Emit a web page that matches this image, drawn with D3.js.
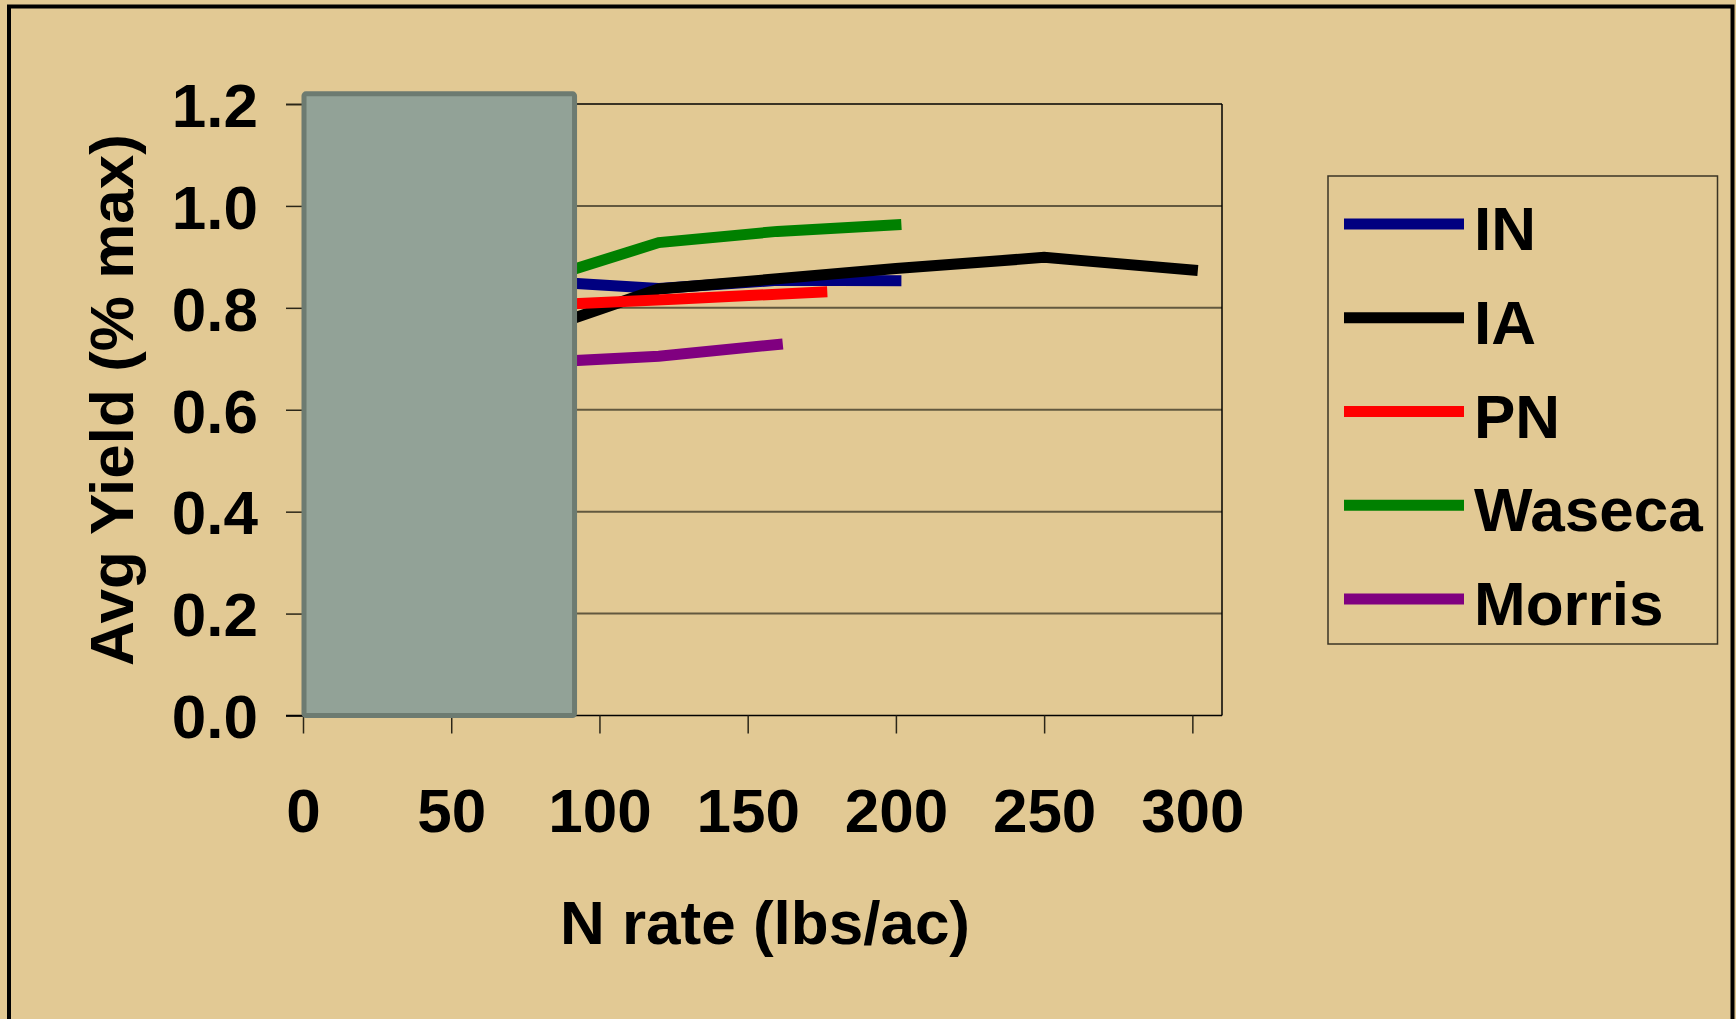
<!DOCTYPE html>
<html>
<head>
<meta charset="utf-8">
<script src="https://cdn.jsdelivr.net/npm/d3@7"></script>
<style>
  html, body { margin: 0; padding: 0; background: #E2C994; }
  svg { display: block; }
  text { font-family: "Liberation Sans", Arial, sans-serif; font-weight: bold; fill: #000; }
</style>
</head>
<body>
<svg id="chart" width="1736" height="1019"></svg>
<script>
// ---- data ----
const seriesNames = ["IN", "IA", "PN", "Waseca", "Morris"];
const seriesColors = ["#000080", "#000000", "#FF0000", "#008000", "#800080"];
const xIN = [80, 120, 160, 200];
const yIN = [0.852, 0.838, 0.854, 0.853];
const xIA = [80, 120, 160, 200, 250, 300];
const yIA = [0.757, 0.837, 0.857, 0.877, 0.899, 0.874];
const xPN = [80, 125, 175];
const yPN = [0.805, 0.817, 0.831];
const xWaseca = [80, 120, 160, 200];
const yWaseca = [0.855, 0.928, 0.950, 0.963];
const xMorris = [80, 120, 160];
const yMorris = [0.693, 0.705, 0.728];
const xTicks = [0, 50, 100, 150, 200, 250, 300];
const yTicks = [0.0, 0.2, 0.4, 0.6, 0.8, 1.0, 1.2];
const xTitle = "N rate (lbs/ac)";
const yTitle = "Avg Yield (% max)";
// covering box (drawn over the low-N part of the plot), in data units
const coverX = [0, 91.6];
const coverY = [0, 1.22];

const seriesX = [xIN, xIA, xPN, xWaseca, xMorris];
const seriesY = [yIN, yIA, yPN, yWaseca, yMorris];

// ---- layout ----
const W = 1736, H = 1019;
const plot = { left: 303, right: 1222, top: 104, bottom: 715.5 };
const FS = 62;
const svg = d3.select("#chart");

svg.append("rect").attr("width", W).attr("height", H).attr("fill", "#E2C994");
// outer frame (bottom edge is off-canvas)
svg.append("rect").attr("x", 9).attr("y", 6.5).attr("width", 1723.5).attr("height", H + 20)
  .attr("fill", "none").attr("stroke", "#000").attr("stroke-width", 4);

const x = d3.scaleLinear().domain([0, 310]).range([plot.left, plot.right]);
const y = d3.scaleLinear().domain([0, 1.2]).range([plot.bottom, plot.top]);

// gridlines
svg.append("g").selectAll("line").data(yTicks.filter(t => t > 0 && t < 1.2)).join("line")
  .attr("x1", plot.left).attr("x2", plot.right)
  .attr("y1", d => y(d)).attr("y2", d => y(d))
  .attr("stroke", "#62583f").attr("stroke-width", 2);

// plot frame top / right
svg.append("line").attr("x1", plot.left).attr("x2", plot.right).attr("y1", y(1.2)).attr("y2", y(1.2))
  .attr("stroke", "#000").attr("stroke-width", 1.5);
svg.append("line").attr("x1", plot.right).attr("x2", plot.right).attr("y1", y(1.2)).attr("y2", y(0))
  .attr("stroke", "#000").attr("stroke-width", 1.5);

// y axis
const yAxis = d3.axisLeft(y).tickValues(yTicks).tickSize(17).tickPadding(28).tickFormat(d3.format(".1f"));
const gy = svg.append("g").attr("transform", `translate(${plot.left},0)`).call(yAxis);
gy.select(".domain").attr("stroke", "#000").attr("stroke-width", 1.5);
gy.selectAll(".tick line").attr("stroke", "#2b2618").attr("stroke-width", 1.5);
gy.selectAll(".tick text").attr("font-size", FS).attr("font-family", "Liberation Sans, Arial, sans-serif")
  .attr("font-weight", "bold").attr("fill", "#000").attr("dy", "0.36em");

// x axis
const xAxis = d3.axisBottom(x).tickValues(xTicks).tickSize(18).tickPadding(54).tickFormat(d3.format("d"));
const gx = svg.append("g").attr("transform", `translate(0,${plot.bottom})`).call(xAxis);
gx.select(".domain").attr("stroke", "#000").attr("stroke-width", 1.5).attr("d", `M${plot.left - 17},0H${plot.right}`);
gx.selectAll(".tick line").attr("stroke", "#2b2618").attr("stroke-width", 1.5);
gx.selectAll(".tick text").attr("font-size", FS).attr("font-family", "Liberation Sans, Arial, sans-serif")
  .attr("font-weight", "bold").attr("fill", "#000");

// series lines
const line = d3.line().x(d => x(d[0])).y(d => y(d[1]));
seriesNames.forEach((name, i) => {
  const pts = seriesX[i].map((v, k) => [v, seriesY[i][k]]);
  svg.append("path").datum(pts).attr("d", line)
    .attr("fill", "none").attr("stroke", seriesColors[i]).attr("stroke-width", 11)
    .attr("stroke-linecap", "square").attr("stroke-linejoin", "miter");
});

// covering box
svg.append("rect")
  .attr("x", x(coverX[0]) + 1).attr("y", y(coverY[1]))
  .attr("width", x(coverX[1]) - x(coverX[0]) - 1).attr("height", y(coverY[0]) - y(coverY[1]))
  .attr("rx", 2)
  .attr("fill", "#92A297").attr("stroke", "#6D7B71").attr("stroke-width", 5);

// axis titles
svg.append("text").attr("x", 765).attr("y", 944).attr("text-anchor", "middle")
  .attr("font-size", FS).text(xTitle);
svg.append("text").attr("transform", "translate(133,400) rotate(-90)").attr("text-anchor", "middle")
  .attr("font-size", FS).text(yTitle);

// legend
const lg = svg.append("g");
lg.append("rect").attr("x", 1328).attr("y", 176).attr("width", 389.5).attr("height", 468)
  .attr("fill", "none").attr("stroke", "#3b3424").attr("stroke-width", 1.5);
const legendY = d3.scalePoint().domain(seriesNames).range([224, 599]);
seriesNames.forEach((name, i) => {
  const ly = legendY(name);
  lg.append("line").attr("x1", 1344).attr("x2", 1464).attr("y1", ly).attr("y2", ly)
    .attr("stroke", seriesColors[i]).attr("stroke-width", 11);
  lg.append("text").attr("x", 1474).attr("y", ly + 26).attr("font-size", FS).text(name);
});
</script>
</body>
</html>
